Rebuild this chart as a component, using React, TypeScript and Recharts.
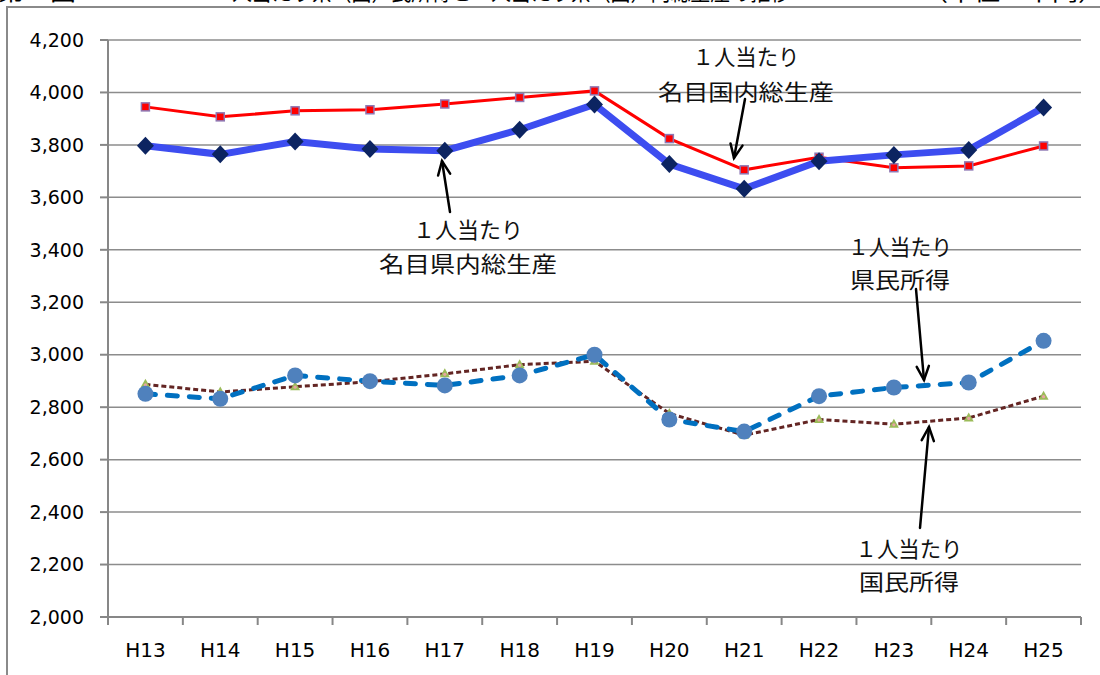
import React from 'react';
import { LineChart, Line, XAxis, YAxis, CartesianGrid } from 'recharts';

// 年度
const years = ['H13', 'H14', 'H15', 'H16', 'H17', 'H18', 'H19', 'H20', 'H21', 'H22', 'H23', 'H24', 'H25'];
// 1人当たり名目国内総生産（千円）
const gdpNation = [3945, 3907, 3930, 3934, 3956, 3981, 4006, 3824, 3705, 3753, 3713, 3720, 3796];
// 1人当たり名目県内総生産（千円）
const gdpPref = [3797, 3764, 3813, 3784, 3778, 3858, 3954, 3727, 3633, 3738, 3762, 3781, 3943];
// 1人当たり国民所得（千円）
const incomeNation = [2887, 2858, 2878, 2897, 2927, 2962, 2975, 2776, 2693, 2753, 2735, 2759, 2842];
// 1人当たり県民所得（千円）
const incomePref = [2851, 2832, 2921, 2899, 2883, 2921, 3000, 2753, 2707, 2842, 2875, 2894, 3053];
// 縦軸目盛
const yTicks = [2000, 2200, 2400, 2600, 2800, 3000, 3200, 3400, 3600, 3800, 4000, 4200];

const rows = years.map((year, i) => ({
  year,
  gdpNation: gdpNation[i],
  gdpPref: gdpPref[i],
  incomeNation: incomeNation[i],
  incomePref: incomePref[i],
}));

const W = 1100;
const H = 675;
const M = { top: 40, right: 19, bottom: 28, left: 0 };
const Y_AXIS_W = 108;
const X_AXIS_H = 30;
const PLOT_LEFT = M.left + Y_AXIS_W;
const PLOT_RIGHT = W - M.right;
const BAND = (PLOT_RIGHT - PLOT_LEFT) / years.length;

const AXIS_GRAY = '#878787';
const TICK_FONT = '"DejaVu Sans", sans-serif';
const JP_FONT = '"Noto Sans CJK JP", sans-serif';

const XTick = (props: any) => {
  const { x, y, payload, index } = props;
  const left = x - BAND / 2;
  const right = x + BAND / 2;
  return (
    <g>
      <line x1={left} y1={y} x2={left} y2={y + 8} stroke={AXIS_GRAY} strokeWidth={2} />
      {index === years.length - 1 && (
        <line x1={right} y1={y} x2={right} y2={y + 8} stroke={AXIS_GRAY} strokeWidth={2} />
      )}
      <text x={x} y={y + 40} textAnchor="middle" fontSize={20} fontFamily={TICK_FONT} fill="#000">
        {payload.value}
      </text>
    </g>
  );
};

const SquareDot = (props: any) => {
  const { cx, cy, index } = props;
  if (cx == null || cy == null) return <g key={`sq-${index}`} />;
  return (
    <rect key={`sq-${index}`} x={cx - 4} y={cy - 4} width={8} height={8} fill="#FF0000" stroke="#8E78B4" strokeWidth={1.5} />
  );
};

const DiamondDot = (props: any) => {
  const { cx, cy, index } = props;
  if (cx == null || cy == null) return <g key={`dm-${index}`} />;
  return (
    <path
      key={`dm-${index}`}
      d={`M${cx},${cy - 9}L${cx + 8.5},${cy}L${cx},${cy + 9}L${cx - 8.5},${cy}Z`}
      fill="#0C2461"
    />
  );
};

const CircleDot = (props: any) => {
  const { cx, cy, index } = props;
  if (cx == null || cy == null) return <g key={`ci-${index}`} />;
  return <circle key={`ci-${index}`} cx={cx} cy={cy} r={8} fill="#4F81BD" />;
};

const TriangleDot = (props: any) => {
  const { cx, cy, index } = props;
  if (cx == null || cy == null) return <g key={`tr-${index}`} />;
  return (
    <g key={`tr-${index}`}>
      <path d={`M${cx},${cy - 5.5}L${cx + 5},${cy + 3.5}L${cx - 5},${cy + 3.5}Z`} fill="#9BBB59" />
      <circle cx={cx} cy={cy + 0.5} r={1.6} fill="#E6A5A0" />
    </g>
  );
};

const Arrow = ({ x1, y1, x2, y2 }: { x1: number; y1: number; x2: number; y2: number }) => {
  const ang = Math.atan2(y2 - y1, x2 - x1);
  const len = 15;
  const spread = (24 * Math.PI) / 180;
  const ax = x2 - len * Math.cos(ang - spread);
  const ay = y2 - len * Math.sin(ang - spread);
  const bx = x2 - len * Math.cos(ang + spread);
  const by = y2 - len * Math.sin(ang + spread);
  return (
    <g stroke="#000" strokeWidth={2.5} fill="none" strokeLinecap="round">
      <line x1={x1} y1={y1} x2={x2} y2={y2} />
      <polyline points={`${ax},${ay} ${x2},${y2} ${bx},${by}`} />
    </g>
  );
};

const Note = ({ x, y1, y2, top, bottom, w1, w2 }: { x: number; y1: number; y2: number; top: string; bottom: string; w1: number; w2: number }) => (
  <g fontFamily={JP_FONT} fontSize={22} fill="#111">
    <text x={x - w1 / 2} y={y1} textLength={w1} lengthAdjust="spacingAndGlyphs" dominantBaseline="central">
      {top}
    </text>
    <text x={x - w2 / 2} y={y2} textLength={w2} lengthAdjust="spacingAndGlyphs" dominantBaseline="central">
      {bottom}
    </text>
  </g>
);

export default function App() {
  return (
    <div style={{ position: 'absolute', left: 0, top: 0, width: W, height: H, overflow: 'hidden', background: '#fff' }}>
      <LineChart width={W} height={H} data={rows} margin={M}>
        <CartesianGrid vertical={false} stroke="#8C8C8C" strokeWidth={1.5} />
        <XAxis
          dataKey="year"
          scale="band"
          height={X_AXIS_H}
          interval={0}
          tickLine={false}
          tickSize={0}
          tickMargin={0}
          axisLine={{ stroke: AXIS_GRAY, strokeWidth: 2 }}
          tick={<XTick />}
        />
        <YAxis
          width={Y_AXIS_W}
          domain={[2000, 4200]}
          ticks={yTicks}
          interval={0}
          tickFormatter={(v: number) => v.toLocaleString('en-US')}
          axisLine={{ stroke: AXIS_GRAY, strokeWidth: 2 }}
          tickLine={{ stroke: AXIS_GRAY, strokeWidth: 2 }}
          tickSize={8}
          tickMargin={16}
          tick={{ fontSize: 19, fontFamily: TICK_FONT, fill: '#000' }}
        />
        <Line
          dataKey="incomeNation"
          stroke="#632523"
          strokeWidth={3}
          strokeDasharray="5 3"
          dot={<TriangleDot />}
          isAnimationActive={false}
        />
        <Line
          dataKey="incomePref"
          stroke="#0070C0"
          strokeWidth={5}
          strokeDasharray="10 12"
          strokeLinecap="round"
          dot={<CircleDot />}
          isAnimationActive={false}
        />
        <Line dataKey="gdpNation" stroke="#FF0000" strokeWidth={3} dot={<SquareDot />} isAnimationActive={false} />
        <Line dataKey="gdpPref" stroke="#3D4DF0" strokeWidth={7} dot={<DiamondDot />} isAnimationActive={false} />
      </LineChart>

      <svg width={W} height={H} style={{ position: 'absolute', left: 0, top: 0, pointerEvents: 'none' }}>
        {/* 表題（図の上端にかかる） */}
        <g fontFamily={JP_FONT} fontSize={22} fill="#000">
          <text x={-2} y={-0.5} textLength={78} lengthAdjust="spacingAndGlyphs">第２図</text>
          <text x={212} y={-0.5} textLength={578} lengthAdjust="spacingAndGlyphs">
            １人当たり県（国）民所得と１人当たり県（国）内総生産の推移
          </text>
          <text x={922} y={-0.5} textLength={182} lengthAdjust="spacingAndGlyphs">（単位：千円）</text>
        </g>
        {/* 外枠 */}
        <path d="M7,700 L7,7 L1110,7" stroke="#8A8A8A" strokeWidth={2} fill="none" />

        <Note x={746} y1={55} y2={90} top="１人当たり" bottom="名目国内総生産" w1={107} w2={176} />
        <Arrow x1={745} y1={99} x2={734} y2={158} />

        <Note x={468} y1={228} y2={262} top="１人当たり" bottom="名目県内総生産" w1={110} w2={178} />
        <Arrow x1={450} y1={212} x2={442} y2={161} />

        <Note x={900} y1={245} y2={278} top="１人当たり" bottom="県民所得" w1={104} w2={100} />
        <Arrow x1={916} y1={289} x2={924} y2={380} />

        <Note x={909} y1={547} y2={580} top="１人当たり" bottom="国民所得" w1={107} w2={100} />
        <Arrow x1={920} y1={528} x2={929} y2={427} />
      </svg>
    </div>
  );
}
